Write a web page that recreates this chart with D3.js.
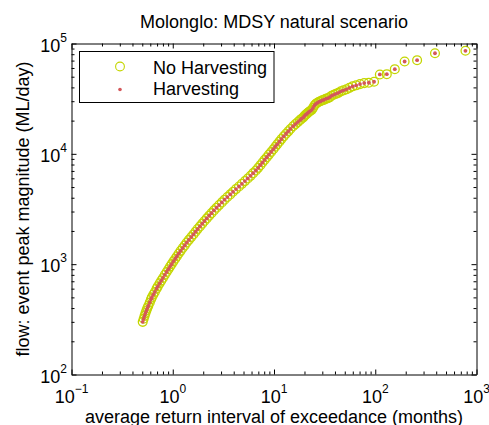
<!DOCTYPE html>
<html>
<head>
<meta charset="utf-8">
<script src="https://cdnjs.cloudflare.com/ajax/libs/d3/7.8.5/d3.min.js"></script>
<style>
body { margin: 0; background: #fff; }
svg { display: block; font-family: "Liberation Sans", Arial, sans-serif; }
</style>
</head>
<body>
<svg id="chart" width="489" height="425"></svg>
<script>
// average return interval of exceedance (months)
var returnInterval = [
    0.505, 0.516, 0.527, 0.538, 0.549, 0.561, 0.574, 0.593, 0.610, 0.621,
    0.643, 0.665, 0.692, 0.712, 0.742, 0.771, 0.800, 0.835, 0.870, 0.905,
    0.940, 0.975, 1.016, 1.058, 1.099, 1.146, 1.197, 1.253, 1.312, 1.374,
    1.443, 1.522, 1.600, 1.680, 1.758, 1.856, 1.955, 2.056, 2.167, 2.291,
    2.412, 2.553, 2.710, 2.871, 3.055, 3.246, 3.46, 3.70, 3.94, 4.21,
    4.51, 4.82, 5.16, 5.50, 5.87, 6.22, 6.62, 6.98, 7.34, 7.69,
    8.07, 8.49, 8.91, 9.36, 9.85, 10.29, 10.75, 11.30, 11.83, 12.47,
    13.15, 13.84, 14.52, 15.43, 16.29, 17.18, 18.03, 18.7, 19.45, 19.9,
    20.5, 21.0, 21.6, 22.2, 22.9, 23.6, 24.3, 25.1, 25.9, 26.8,
    27.8, 28.8, 29.9, 31.1, 32.4, 33.8, 35.4, 37.0, 38.9, 40.9,
    43.2, 45.8, 48.6, 51.9, 55.6, 59.8, 64.8, 70.7, 77.8, 86.4,
    97.3, 111, 130, 156, 195, 259, 389, 778
];

// event peak magnitude (ML/day)
var noHarvestFlow = [
    300, 320, 340, 360, 380, 400, 420, 450, 480, 500,
    530, 560, 600, 630, 670, 710, 750, 800, 850, 900,
    950, 1000, 1060, 1120, 1180, 1250, 1320, 1400, 1480, 1570,
    1660, 1760, 1860, 1970, 2080, 2200, 2330, 2460, 2600, 2750,
    2900, 3070, 3250, 3430, 3630, 3840, 4060, 4290, 4530, 4790,
    5060, 5350, 5660, 5980, 6320, 6680, 7060, 7460, 7890, 8340,
    8810, 9310, 9840, 10400, 11000, 11600, 12200, 12900, 13600, 14400,
    15200, 16000, 16800, 17800, 18600, 19400, 20200, 20800, 21330, 22000,
    22590, 23000, 23550, 24040, 24550, 25060, 26130, 27530, 28420, 29010,
    29620, 29930, 30560, 30880, 31530, 31860, 32530, 33570, 34280, 34990,
    35720, 36860, 37640, 38430, 39650, 40920, 41780, 42840, 43750, 44100,
    45000, 52400, 52700, 58500, 68700, 70600, 81600, 85900
];

var harvestFlow = [
    300, 320, 340, 360, 380, 400, 420, 450, 480, 500,
    530, 560, 600, 630, 670, 710, 750, 800, 850, 900,
    950, 1000, 1060, 1120, 1180, 1250, 1320, 1400, 1480, 1570,
    1660, 1760, 1860, 1970, 2080, 2200, 2330, 2460, 2600, 2750,
    2900, 3070, 3250, 3430, 3630, 3840, 4060, 4290, 4530, 4790,
    5060, 5350, 5660, 5980, 6320, 6680, 7060, 7460, 7890, 8340,
    8810, 9310, 9840, 10400, 11000, 11600, 12200, 12900, 13600, 14400,
    15200, 16000, 16800, 17800, 18600, 19400, 20200, 20800, 21330, 22000,
    22590, 23000, 23550, 24040, 24550, 25060, 26130, 27530, 28420, 29010,
    29620, 29930, 30560, 30880, 31530, 31860, 32530, 33570, 34280, 34990,
    35720, 36860, 37640, 38430, 39650, 40920, 41780, 42840, 43750, 44100,
    45000, 52400, 52700, 58500, 68700, 70600, 81600, 85900
];

var xTicks = [0.1, 1, 10, 100, 1000];
var xTickExp = ["\u22121", "0", "1", "2", "3"];
var yTicks = [100, 1000, 10000, 100000];
var yTickExp = ["2", "3", "4", "5"];
var seriesNames = ["No Harvesting", "Harvesting"];

var plotLeft = 71.5, plotRight = 476.5, plotTop = 43.5, plotBottom = 374.5;
var circleColor = "#c4d600";
var dotColor = "#d4575a";

var svg = d3.select("#chart");

var x = d3.scaleLog().domain([0.1, 1000]).range([plotLeft, plotRight]);
var y = d3.scaleLog().domain([100, 100000]).range([plotBottom, plotTop]);

// minor ticks 2..9 in every decade
function minors(ticks) {
    var out = [];
    ticks.slice(0, -1).forEach(function(d) {
        for (var m = 2; m <= 9; m++) out.push(d * m);
    });
    return out;
}

function drawAxis(axisFn, scale, ticks, size, tx, ty) {
    var g = svg.append("g").attr("transform", "translate(" + tx + "," + ty + ")");
    g.call(axisFn(scale).tickValues(ticks).tickSizeInner(size).tickSizeOuter(0).tickFormat(""));
    g.select(".domain").attr("stroke", "#000");
    g.selectAll(".tick line").attr("stroke", "#000");
    return g;
}

var pts = returnInterval.map(function(d, i) {
    return { x: d, a: noHarvestFlow[i], b: harvestFlow[i] };
});

// no harvesting: open circles
svg.append("g").selectAll("circle")
    .data(pts)
    .enter()
    .append("circle")
    .attr("cx", function(d) { return x(d.x); })
    .attr("cy", function(d) { return y(d.a); })
    .attr("r", 4.4)
    .attr("fill", "none")
    .attr("stroke", circleColor)
    .attr("stroke-width", 1.3);

// harvesting: small dots on top
svg.append("g").selectAll("circle")
    .data(pts)
    .enter()
    .append("circle")
    .attr("cx", function(d) { return x(d.x); })
    .attr("cy", function(d) { return y(d.b); })
    .attr("r", 1.9)
    .attr("fill", dotColor);

// box + inward ticks on all four sides
drawAxis(d3.axisBottom, x, xTicks, -5, 0, plotBottom);
drawAxis(d3.axisBottom, x, minors(xTicks), -3, 0, plotBottom).select(".domain").remove();
drawAxis(d3.axisTop, x, xTicks, -5, 0, plotTop);
drawAxis(d3.axisTop, x, minors(xTicks), -3, 0, plotTop).select(".domain").remove();
drawAxis(d3.axisLeft, y, yTicks, -5, plotLeft, 0);
drawAxis(d3.axisLeft, y, minors(yTicks), -3, plotLeft, 0).select(".domain").remove();
drawAxis(d3.axisRight, y, yTicks, -5, plotRight, 0);
drawAxis(d3.axisRight, y, minors(yTicks), -3, plotRight, 0).select(".domain").remove();

// tick labels with superscript exponents
var xl = svg.append("g").selectAll("text")
    .data(xTicks)
    .enter()
    .append("text")
    .attr("x", function(d) { return x(d); })
    .attr("y", 403)
    .attr("text-anchor", "middle")
    .attr("font-size", 18);
xl.append("tspan").text("10");
xl.append("tspan").attr("font-size", 12).attr("dy", -10).text(function(d, i) { return xTickExp[i]; });

var yl = svg.append("g").selectAll("text")
    .data(yTicks)
    .enter()
    .append("text")
    .attr("x", 67)
    .attr("y", function(d) { return y(d) + 8; })
    .attr("text-anchor", "end")
    .attr("font-size", 18);
yl.append("tspan").text("10");
yl.append("tspan").attr("font-size", 12).attr("dy", -10).text(function(d, i) { return yTickExp[i]; });

// titles
svg.append("text")
    .attr("x", (plotLeft + plotRight) / 2)
    .attr("y", 28)
    .attr("text-anchor", "middle")
    .attr("font-size", 18)
    .text("Molonglo: MDSY natural scenario");

svg.append("text")
    .attr("x", (plotLeft + plotRight) / 2)
    .attr("y", 423)
    .attr("text-anchor", "middle")
    .attr("font-size", 18)
    .text("average return interval of exceedance (months)");

svg.append("text")
    .attr("transform", "translate(29," + ((plotTop + plotBottom) / 2) + ") rotate(-90)")
    .attr("text-anchor", "middle")
    .attr("font-size", 18)
    .text("flow: event peak magnitude (ML/day)");

// legend
var lg = svg.append("g");
lg.append("rect")
    .attr("x", 79.5).attr("y", 51.5)
    .attr("width", 194.5).attr("height", 51)
    .attr("fill", "#fff").attr("stroke", "#000");
lg.append("circle")
    .attr("cx", 120).attr("cy", 66.5).attr("r", 4.4)
    .attr("fill", "none").attr("stroke", circleColor).attr("stroke-width", 1.1);
lg.append("circle")
    .attr("cx", 120).attr("cy", 89.5).attr("r", 1.8)
    .attr("fill", dotColor);
lg.selectAll("text.lab")
    .data(seriesNames)
    .enter()
    .append("text")
    .attr("class", "lab")
    .attr("x", 153)
    .attr("y", function(d, i) { return 73.5 + i * 21.5; })
    .attr("font-size", 18)
    .text(function(d) { return d; });
</script>
</body>
</html>
